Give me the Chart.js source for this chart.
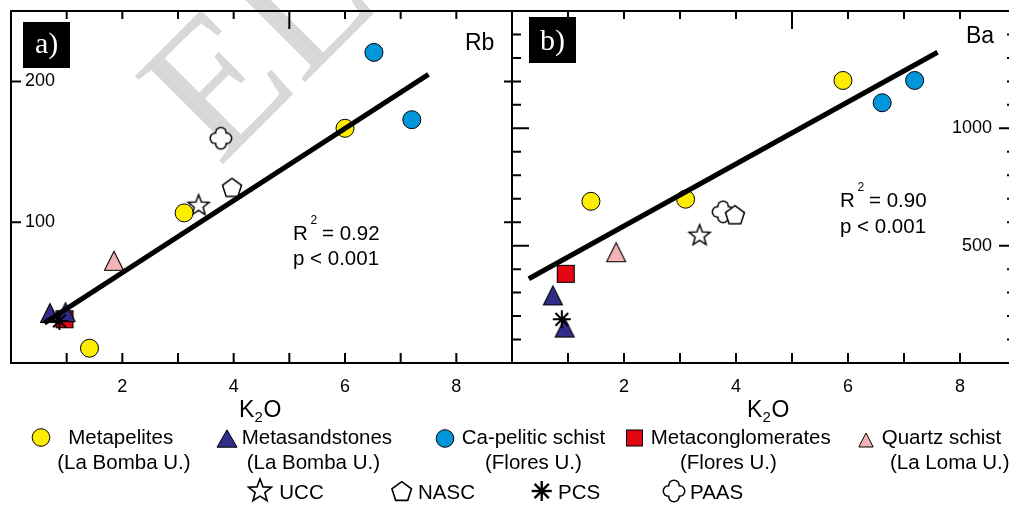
<!DOCTYPE html>
<html><head><meta charset="utf-8">
<script src="https://cdn.jsdelivr.net/npm/chart.js@4"></script>
<style>
html,body{margin:0;padding:0;background:#fff;overflow:hidden;width:1009px;height:506px;}
#wrap{position:relative;width:1009px;height:506px;overflow:hidden;}
canvas{position:absolute;top:0;}
#ca{left:0;z-index:2}
#cb{left:500px;z-index:3}
#wm{position:absolute;left:0;top:0;z-index:1}
#ov{position:absolute;left:0;top:0;z-index:4}
#ov text{font-family:"Liberation Sans",Arial,sans-serif;fill:#000;}
</style></head>
<body><div id="wrap">
<svg id="wm" width="1009" height="506"><text x="219" y="168" transform="rotate(-45 219 168)" font-family="Liberation Serif, Times New Roman, serif" font-size="190" fill="#d8d8d8">EL</text></svg>
<canvas id="ca" width="530" height="400"></canvas>
<canvas id="cb" width="540" height="400"></canvas>
<svg id="ov" width="1009" height="506">
  <text x="465" y="50" font-size="23">Rb</text>
  <text x="966" y="43.3" font-size="23">Ba</text>
  <rect x="23" y="22" width="47" height="46" fill="#000"/>
  <text x="35" y="53" font-size="30" style="font-family:'Liberation Serif','Times New Roman',serif;fill:#fff">a)</text>
  <rect x="529" y="17" width="47" height="46" fill="#000"/>
  <text x="540" y="50" font-size="30" style="font-family:'Liberation Serif','Times New Roman',serif;fill:#fff">b)</text>

  <text x="293" y="240" font-size="20.5">R</text>
  <text x="310.5" y="224" font-size="12">2</text>
  <text x="322" y="240" font-size="20.5">= 0.92</text>
  <text x="293" y="265" font-size="20.5">p &lt; 0.001</text>

  <text x="840" y="206.7" font-size="20.5">R</text>
  <text x="857.5" y="191" font-size="12">2</text>
  <text x="869" y="206.7" font-size="20.5">= 0.90</text>
  <text x="840" y="233.3" font-size="20.5">p &lt; 0.001</text>

  <text x="239" y="417" font-size="23">K</text>
  <text x="254.5" y="422" font-size="15">2</text>
  <text x="263.5" y="417" font-size="23">O</text>
  <text x="747" y="417" font-size="23">K</text>
  <text x="762.5" y="422" font-size="15">2</text>
  <text x="771.5" y="417" font-size="23">O</text>

  <!-- legend symbols -->
  <circle cx="41" cy="437.5" r="8.8" fill="#FFED00" stroke="#000" stroke-width="1"/>
  <polygon points="227,429.8 237,447.2 217,447.2" fill="#302C87" stroke="#000" stroke-width="1"/>
  <circle cx="445" cy="438.5" r="8.8" fill="#0096D9" stroke="#000" stroke-width="1"/>
  <rect x="626.5" y="430" width="16" height="16" fill="#E30613" stroke="#000" stroke-width="1"/>
  <polygon points="866,433 873.2,447 858.8,447" fill="#F4B3B5" stroke="#000" stroke-width="1"/>
  <polygon id="lgStar" fill="#fff" stroke="#000" stroke-width="1.6"/>
  <polygon id="lgPent" fill="#fff" stroke="#000" stroke-width="1.6"/>
  <g stroke="#000" stroke-width="2.4">
    <line x1="531.7" y1="491" x2="551.7" y2="491"/><line x1="541.7" y1="481" x2="541.7" y2="501"/>
    <line x1="534.6" y1="483.9" x2="548.8" y2="498.1"/><line x1="534.6" y1="498.1" x2="548.8" y2="483.9"/>
  </g>
  <g fill="#000">
    <rect x="662.5" y="485" width="23" height="12" rx="6"/>
    <rect x="668" y="479.5" width="12" height="23" rx="6"/>
  </g>
  <g fill="#fff">
    <rect x="664" y="486.5" width="20" height="9" rx="4.5"/>
    <rect x="669.5" y="481" width="9" height="20" rx="4.5"/>
  </g>

  <!-- legend texts -->
  <text x="68.3" y="444.4" font-size="20.5">Metapelites</text>
  <text x="57.3" y="468.5" font-size="20.5">(La Bomba U.)</text>
  <text x="241.7" y="444.4" font-size="20.5">Metasandstones</text>
  <text x="246.7" y="468.5" font-size="20.5">(La Bomba U.)</text>
  <text x="461.7" y="444.4" font-size="20.5">Ca-pelitic schist</text>
  <text x="485" y="468.5" font-size="20.5">(Flores U.)</text>
  <text x="650.7" y="444.4" font-size="20.5">Metaconglomerates</text>
  <text x="680" y="468.5" font-size="20.5">(Flores U.)</text>
  <text x="881.7" y="444.4" font-size="20.5">Quartz schist</text>
  <text x="890" y="468.5" font-size="20.5">(La Loma U.)</text>
  <text x="279.3" y="498.9" font-size="20.5">UCC</text>
  <text x="418" y="498.9" font-size="20.5">NASC</text>
  <text x="558" y="498.9" font-size="20.5">PCS</text>
  <text x="690" y="498.9" font-size="20.5">PAAS</text>
</svg>
</div>
<script>
// ---------- Panel a) Rb (ppm) vs K2O (wt%) ----------
const rbMetapelitesK2O = [1.41, 3.11, 6.00];
const rbMetapelites = [10.5, 106.6, 166.7];
const rbMetasandstonesK2O = [0.70, 0.98];
const rbMetasandstones = [35.5, 36.1];
const rbCaPeliticK2O = [6.52, 7.20];
const rbCaPelitic = [220.6, 172.8];
const rbMetaconglK2O = [0.96];
const rbMetacongl = [31.1];
const rbQuartzK2O = [1.85];
const rbQuartz = [72.6];
// reference compositions: UCC, NASC, PCS, PAAS
const rbRefK2O = [3.37, 3.97, 0.87, 3.77];
const rbRef = [112.4, 124.7, 29.9, 159.6];
const rbFitK2O = [0.60, 7.50];
const rbFit = [28.3, 205.0];

// ---------- Panel b) Ba (ppm) vs K2O (wt%) ----------
const baMetapelitesK2O = [1.41, 3.10, 5.91];
const baMetapelites = [689, 698, 1204];
const baMetasandstonesK2O = [0.73, 0.94];
const baMetasandstones = [288, 151];
const baCaPeliticK2O = [6.61, 7.19];
const baCaPelitic = [1109, 1204];
const baMetaconglK2O = [0.96];
const baMetacongl = [380];
const baQuartzK2O = [1.86];
const baQuartz = [472];
const baRefK2O = [3.35, 3.98, 0.89, 3.77];
const baRef = [547, 632, 186, 644];
const baFitK2O = [0.30, 7.60];
const baFit = [359, 1324];

// ---------- axes ----------
const xTickLabels = [2, 4, 6, 8];
const xTickMarks = [1, 2, 3, 4, 5, 6, 7, 8];
const rbTickLabels = [100, 200];
const baTickLabels = [500, 1000];
const baTickMarks = [100,200,300,400,500,600,700,800,900,1000,1100,1200,1300,1400];

const COL = {yellow:'#FFED00', navy:'#302C87', blue:'#0096D9', red:'#E30613', pink:'#F4B3B5'};
const FONT = '"Liberation Sans", Arial, sans-serif';

function mk(size, draw){const c=document.createElement('canvas');c.width=size;c.height=size;const g=c.getContext('2d');draw(g,size/2);return c;}
function triangle(fill){return mk(24,(g,c)=>{g.beginPath();g.moveTo(c,c-9.5);g.lineTo(c+9.5,c+9.5);g.lineTo(c-9.5,c+9.5);g.closePath();g.fillStyle=fill;g.fill();g.lineWidth=1.1;g.strokeStyle='#000';g.stroke();});}
function square(fill){return mk(22,(g,c)=>{g.fillStyle=fill;g.fillRect(c-8.5,c-8.5,17,17);g.lineWidth=1.1;g.strokeStyle='#000';g.strokeRect(c-8.5,c-8.5,17,17);});}
function starPts(cx,cy,R,r){const p=[];for(let i=0;i<10;i++){const a=-Math.PI/2+i*Math.PI/5;const rr=i%2?r:R;p.push([cx+rr*Math.cos(a),cy+rr*Math.sin(a)]);}return p;}
function pentPts(cx,cy,R){const p=[];for(let i=0;i<5;i++){const a=-Math.PI/2+i*2*Math.PI/5;p.push([cx+R*Math.cos(a),cy+R*Math.sin(a)]);}return p;}
function poly(g,pts){g.beginPath();pts.forEach((q,i)=>i?g.lineTo(q[0],q[1]):g.moveTo(q[0],q[1]));g.closePath();}
function star(){return mk(28,(g,c)=>{poly(g,starPts(c,c+1,11,4.7));g.fillStyle='#fff';g.fill();g.lineWidth=1.5;g.strokeStyle='#000';g.stroke();});}
function pentagon(){return mk(26,(g,c)=>{poly(g,pentPts(c,c+0.9,10));g.fillStyle='#fff';g.fill();g.lineWidth=1.5;g.strokeStyle='#000';g.stroke();});}
function rr(g,x,y,w,h,r){g.beginPath();g.moveTo(x+r,y);g.arcTo(x+w,y,x+w,y+h,r);g.arcTo(x+w,y+h,x,y+h,r);g.arcTo(x,y+h,x,y,r);g.arcTo(x,y,x+w,y,r);g.closePath();g.fill();}
function paas(){return mk(28,(g,c)=>{
  g.fillStyle='#000';rr(g,c-11.5,c-6,23,12,6);rr(g,c-6,c-11.5,12,23,6);
  g.fillStyle='#fff';rr(g,c-10,c-4.5,20,9,4.5);rr(g,c-4.5,c-10,9,20,4.5);});}

const pts=(xs,ys)=>xs.map((x,i)=>({x,y:ys[i]}));

function datasets(d){
  const circ=(data,fill,order)=>({data,pointStyle:'circle',pointRadius:9,pointBorderWidth:1,pointBackgroundColor:fill,pointBorderColor:'#000',order});
  const img=(data,style,order)=>({data,pointStyle:style,pointRadius:10,order});
  return [
    {type:'line',data:d.fit,showLine:true,borderColor:'#000',borderWidth:5,pointRadius:0,fill:false,order:0},
    {data:[d.ref[2]],pointStyle:'star',pointRadius:9,pointBorderWidth:2,pointBorderColor:'#000',order:1},
    img(d.msand,triangle(COL.navy),2),
    img(d.mcong,square(COL.red),3),
    img(d.quartz,triangle(COL.pink),4),
    circ(d.mpel,COL.yellow,5),
    circ(d.capel,COL.blue,6),
    img([d.ref[0]],star(),7),
    img([d.ref[1]],pentagon(),8),
    img([d.ref[3]],paas(),9)
  ];
}

const frame={id:'frame',afterDatasetsDraw(chart,args,o){
  const {ctx,chartArea:a,scales:{x,y}}=chart;
  ctx.save();ctx.strokeStyle='#000';ctx.lineWidth=2;
  ctx.strokeRect(a.left,a.top,a.right-a.left,a.bottom-a.top);
  ctx.beginPath();
  o.top.forEach(([v,l])=>{const p=x.getPixelForValue(v);ctx.moveTo(p,a.top);ctx.lineTo(p,a.top+l);});
  o.bottom.forEach(([v,l])=>{const p=x.getPixelForValue(v);ctx.moveTo(p,a.bottom);ctx.lineTo(p,a.bottom-l);});
  o.left.forEach(([v,l])=>{const p=y.getPixelForValue(v);ctx.moveTo(a.left,p);ctx.lineTo(a.left+l,p);});
  o.right.forEach(([v,l])=>{const p=y.getPixelForValue(v);ctx.moveTo(a.right,p);ctx.lineTo(a.right-l,p);});
  ctx.stroke();ctx.restore();
}};

function makeChart(id,d,ymax,yLabels,yPos,pad,marks,yPad){
  return new Chart(document.getElementById(id),{
    type:'scatter',
    data:{datasets:datasets(d)},
    plugins:[frame],
    options:{
      responsive:false,animation:false,devicePixelRatio:1,events:[],
      layout:{padding:pad},
      plugins:{legend:{display:false},tooltip:{enabled:false},frame:marks},
      scales:{
        x:{type:'linear',min:0,max:9,
          afterBuildTicks:s=>{s.ticks=xTickLabels.map(v=>({value:v}));},
          afterFit:s=>{s.height=37;s.paddingLeft=0;s.paddingRight=0;},
          grid:{display:false,drawTicks:false},border:{display:false},
          ticks:{padding:13,autoSkip:false,maxRotation:0,color:'#000',font:{family:FONT,size:18},callback:v=>String(v)}},
        y:{type:'linear',min:0,max:ymax,position:yPos,
          afterBuildTicks:s=>{s.ticks=yLabels.map(v=>({value:v}));},
          afterFit:s=>{s.width=0;s.paddingTop=0;s.paddingBottom=0;},
          grid:{display:false,drawTicks:false},border:{display:false},
          ticks:{mirror:true,padding:yPad,color:'#000',font:{family:FONT,size:18},callback:v=>String(v)}}
      }
    }
  });
}

const dA={fit:pts(rbFitK2O,rbFit),ref:pts(rbRefK2O,rbRef),msand:pts(rbMetasandstonesK2O,rbMetasandstones),
  mcong:pts(rbMetaconglK2O,rbMetacongl),quartz:pts(rbQuartzK2O,rbQuartz),mpel:pts(rbMetapelitesK2O,rbMetapelites),capel:pts(rbCaPeliticK2O,rbCaPelitic)};
const dB={fit:pts(baFitK2O,baFit),ref:pts(baRefK2O,baRef),msand:pts(baMetasandstonesK2O,baMetasandstones),
  mcong:pts(baMetaconglK2O,baMetacongl),quartz:pts(baQuartzK2O,baQuartz),mpel:pts(baMetapelitesK2O,baMetapelites),capel:pts(baCaPeliticK2O,baCaPelitic)};

makeChart('ca',dA,250,rbTickLabels,'left',{left:8,right:18,top:10,bottom:0},{
  top:xTickMarks.map(v=>[v,v===5?18:8]),
  bottom:xTickMarks.map(v=>[v,10]),
  left:rbTickLabels.map(v=>[v,10]),
  right:rbTickLabels.map(v=>[v,8])},14);
makeChart('cb',dB,1500,baTickLabels,'right',{left:12,right:24,top:10,bottom:0},{
  top:xTickMarks.map(v=>[v,v===5?18:8]),
  bottom:xTickMarks.map(v=>[v,10]),
  left:baTickMarks.map(v=>[v,v%500===0?17:9]),
  right:baTickMarks.map(v=>[v,v%500===0?17:9])},-24);

// legend symbols (outline shapes)
document.getElementById('lgStar').setAttribute('points',starPts(260,491,12,5.1).map(p=>p.join(',')).join(' '));
document.getElementById('lgPent').setAttribute('points',pentPts(401.7,492,10.3).map(p=>p.join(',')).join(' '));
</script>
</body></html>
